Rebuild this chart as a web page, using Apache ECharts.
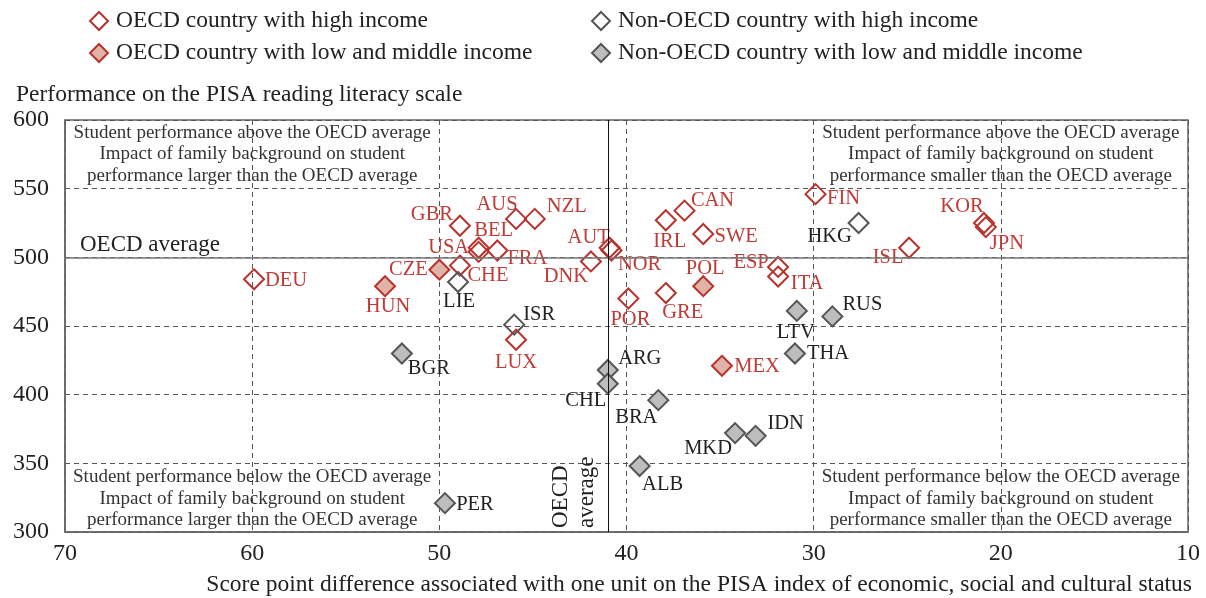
<!DOCTYPE html>
<html>
<head>
<meta charset="utf-8">
<script src="https://cdn.jsdelivr.net/npm/echarts@6/dist/echarts.min.js"></script>
<style>
  html, body { margin: 0; background: #fff; }
  #chart { width: 1206px; height: 598px; }
</style>
</head>
<body>
<div id="chart"></div>
<script>
// x: score point difference per unit of ESCS, y: PISA reading score
const oecdHighNames = ['DEU','CHE','USA','BEL','FRA','GBR','AUS','NZL','DNK','AUT','NOR','IRL','CAN','SWE','GRE','POR','ESP','ITA','LUX','FIN','ISL','KOR','JPN'];
const oecdHighX = [59.9, 48.9, 47.9, 47.9, 46.9, 48.9, 45.9, 44.9, 41.9, 40.9, 40.8, 37.9, 36.9, 35.9, 37.9, 39.9, 31.9, 31.9, 45.9, 29.9, 24.9, 20.9, 20.8];
const oecdHighY = [484, 494, 504, 507, 505, 523, 528, 528, 497, 507, 505, 527, 534, 517, 474, 470, 493, 486, 440, 546, 507, 525, 522];

const oecdLowNames = ['HUN','CZE','POL','MEX'];
const oecdLowX = [52.9, 50.0, 35.9, 34.9];
const oecdLowY = [479, 491, 479, 421];

const nonHighNames = ['LIE','ISR','HKG'];
const nonHighX = [49.0, 46.0, 27.6];
const nonHighY = [482, 451, 525];

const nonLowNames = ['BGR','ARG','CHL','BRA','MKD','IDN','ALB','PER','LTV','RUS','THA'];
const nonLowX = [52.0, 41.0, 41.0, 38.3, 34.2, 33.1, 39.3, 49.7, 30.9, 29.0, 31.0];
const nonLowY = [430, 418, 408, 396, 372, 370, 348, 321, 461, 457, 430];

const oecdAvgX = 41;
const oecdAvgY = 500;

const xMin = 10, xMax = 70, xStep = 10;
const yMin = 300, yMax = 600, yStep = 50;

const seriesNames = [
  'OECD country with high income',
  'OECD country with low and middle income',
  'Non-OECD country with high income',
  'Non-OECD country with low and middle income'
];

// where each country code sits relative to its marker (px)
const labelOffset = {
  DEU:[32,1], HUN:[3,20], CZE:[-31,0], LIE:[1,20], CHE:[28,10], USA:[-30,-4], BEL:[15,-17],
  FRA:[30,8], GBR:[-28,-11], AUS:[-19,-14], NZL:[32,-12], DNK:[-25,15], AUT:[-21,-10],
  NOR:[28,14], IRL:[4,21], CAN:[28,-10], SWE:[33,3], POL:[2,-18], GRE:[17,20], POR:[2,21],
  ESP:[-27,-4], ITA:[29,7], ISR:[25,-10], LUX:[0,23], BGR:[27,15], ARG:[32,-11], CHL:[-22,17],
  BRA:[-22,17], MEX:[35,1], THA:[33,0], MKD:[-27,15], IDN:[30,-12], ALB:[23,19], PER:[30,1],
  LTV:[-1,22], RUS:[30,-12], FIN:[28,4], HKG:[-29,14], ISL:[-21,10], KOR:[-22,-16], JPN:[21,16]
};

const FONT = 'Liberation Serif';
const RED = '#b8332d';
const RED_TEXT = '#bf3b36';
const GREY = '#555';

const chart = echarts.init(document.getElementById('chart'));

function makeSeries(name, names, xs, ys, itemStyle, textColor) {
  return {
    name: name,
    type: 'scatter',
    symbol: 'diamond',
    symbolSize: 20,
    itemStyle: Object.assign({ opacity: 1 }, itemStyle),
    label: {
      show: true,
      position: 'inside',
      formatter: p => p.name,
      color: textColor,
      fontSize: 20.5,
      fontFamily: FONT
    },
    emphasis: { disabled: true },
    data: names.map((n, i) => ({ name: n, value: [xs[i], ys[i]], label: { offset: labelOffset[n] } }))
  };
}

const series = [
  makeSeries(seriesNames[0], oecdHighNames, oecdHighX, oecdHighY,
    { color: 'rgba(0,0,0,0)', borderColor: RED, borderWidth: 2 }, RED_TEXT),
  makeSeries(seriesNames[1], oecdLowNames, oecdLowX, oecdLowY,
    { color: '#e0b3a9', borderColor: RED, borderWidth: 2 }, RED_TEXT),
  makeSeries(seriesNames[2], nonHighNames, nonHighX, nonHighY,
    { color: 'rgba(0,0,0,0)', borderColor: GREY, borderWidth: 2 }, '#222'),
  makeSeries(seriesNames[3], nonLowNames, nonLowX, nonLowY,
    { color: '#bdbdbd', borderColor: GREY, borderWidth: 2 }, '#222')
];

// OECD average lines
series[0].markLine = {
  silent: true,
  symbol: 'none',
  animation: false,
  label: { show: false },
  data: [
    { yAxis: oecdAvgY, lineStyle: { color: '#777', width: 1.5, type: 'solid' } },
    { xAxis: oecdAvgX, lineStyle: { color: '#111', width: 1, type: 'solid' } }
  ]
};

const legendCommon = {
  orient: 'vertical',
  icon: 'diamond',
  itemWidth: 18,
  itemHeight: 18,
  itemGap: 8,
  top: 4,
  selectedMode: false,
  textStyle: { fontFamily: FONT, fontSize: 23.5, color: '#222', padding: [0, 0, 0, 3] }
};

chart.setOption({
  animation: false,
  textStyle: { fontFamily: FONT },
  title: [
    { text: 'Performance on the PISA reading literacy scale', left: 11, top: 78,
      textStyle: { fontFamily: FONT, fontSize: 23.5, fontWeight: 'normal', color: '#222' } },
    { text: 'Score point difference associated with one unit on the PISA index of economic, social and cultural status',
      right: 9, top: 568,
      textStyle: { fontFamily: FONT, fontSize: 23.5, fontWeight: 'normal', color: '#222' } }
  ],
  legend: [
    Object.assign({ left: 84, data: [seriesNames[0], seriesNames[1]] }, legendCommon),
    Object.assign({ left: 586, data: [seriesNames[2], seriesNames[3]] }, legendCommon)
  ],
  grid: { left: 65, right: 18, top: 120, bottom: 66, show: true, borderColor: '#666', borderWidth: 1.5 },
  xAxis: {
    type: 'value',
    inverse: true,
    min: xMin, max: xMax, interval: xStep,
    axisLine: { show: true, lineStyle: { color: '#666', width: 1.5 } },
    axisTick: { show: false },
    axisLabel: { fontFamily: FONT, fontSize: 24, color: '#222', margin: 10 },
    splitLine: { show: true, lineStyle: { color: '#555', type: [5, 4], width: 1 } }
  },
  yAxis: {
    type: 'value',
    min: yMin, max: yMax, interval: yStep,
    axisLine: { show: true, lineStyle: { color: '#666', width: 1.5 } },
    axisTick: { show: false },
    axisLabel: { fontFamily: FONT, fontSize: 24, color: '#222', margin: 16 },
    splitLine: { show: true, lineStyle: { color: '#555', type: [5, 4], width: 1 } }
  },
  series: series
});

// quadrant notes and average labels, anchored to data coordinates
const quadText = {
  tl: 'Student performance above the OECD average\nImpact of family background on student\nperformance larger than the OECD average',
  tr: 'Student performance above the OECD average\nImpact of family background on student\nperformance smaller than the OECD average',
  bl: 'Student performance below the OECD average\nImpact of family background on student\nperformance larger than the OECD average',
  br: 'Student performance below the OECD average\nImpact of family background on student\nperformance smaller than the OECD average'
};
const px = (x, y) => chart.convertToPixel({ gridIndex: 0 }, [x, y]);

function note(text, pos, vAlign, dy) {
  return {
    type: 'text', silent: true, z: 50,
    x: pos[0], y: pos[1] + dy,
    style: { text: text, font: '19px "Liberation Serif"', lineHeight: 21.5,
      fill: '#333', align: 'center', verticalAlign: vAlign }
  };
}

const pTL = px(60, yMax), pTR = px(20, yMax), pBL = px(60, yMin), pBR = px(20, yMin);
const pAvgH = px(xMax, oecdAvgY);
const pAvgV = px(oecdAvgX, yMin);

chart.setOption({
  graphic: [
    note(quadText.tl, pTL, 'top', 2),
    note(quadText.tr, pTR, 'top', 2),
    note(quadText.bl, pBL, 'bottom', -1),
    note(quadText.br, pBR, 'bottom', -1),
    { type: 'text', silent: true, x: pAvgH[0] + 15, y: pAvgH[1] - 1,
      style: { text: 'OECD average', font: '23px "Liberation Serif"', fill: '#222',
        align: 'left', verticalAlign: 'bottom' } },
    { type: 'text', silent: true, x: pAvgV[0] - 8, y: pAvgV[1] - 4, rotation: Math.PI / 2,
      style: { text: 'OECD\naverage', font: '23px "Liberation Serif"', lineHeight: 26, fill: '#222',
        align: 'left', verticalAlign: 'bottom' } }
  ]
});
</script>
</body>
</html>
